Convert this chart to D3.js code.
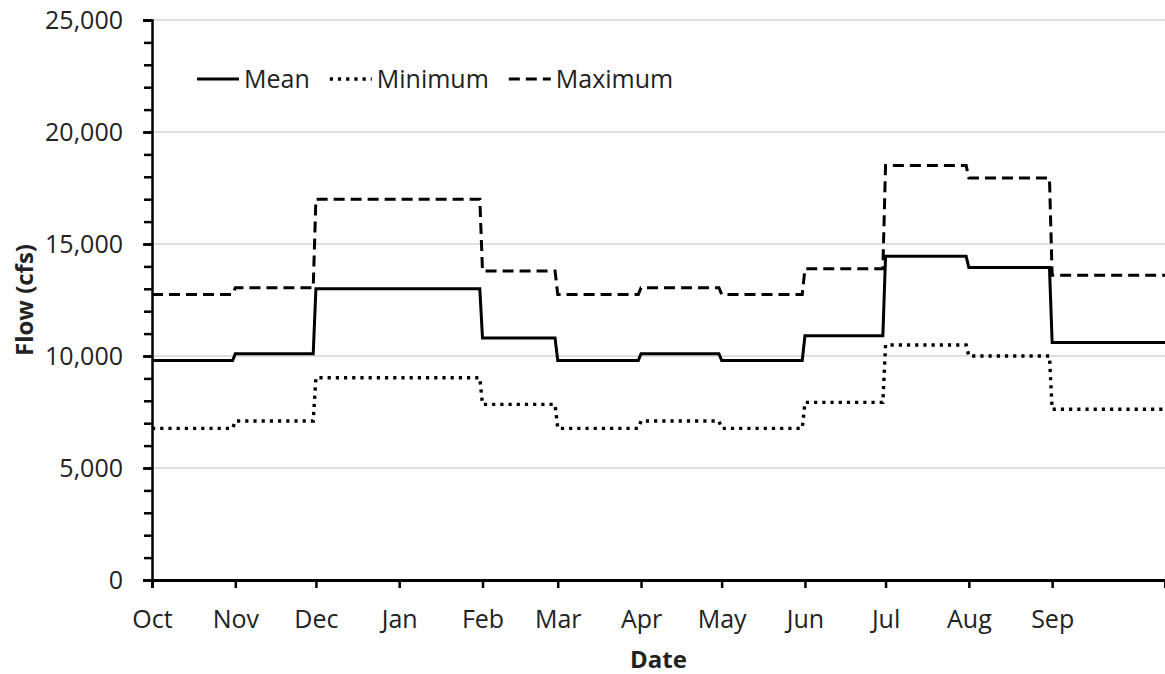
<!DOCTYPE html>
<html>
<head>
<meta charset="utf-8">
<script src="https://cdnjs.cloudflare.com/ajax/libs/d3/7.8.5/d3.min.js"></script>
<style>
  body { margin: 0; background: #fff; }
  text { font-family: "Open Sans", sans-serif; fill: #222; }
</style>
</head>
<body>
<div id="chart"></div>
<script>
// monthly flows (cfs), water year Oct - Sep
const months = ["Oct", "Nov", "Dec", "Jan", "Feb", "Mar", "Apr", "May", "Jun", "Jul", "Aug", "Sep"];
const meanFlow = [9800, 10100, 13000, 13000, 10800, 9800, 10100, 9800, 10900, 14450, 13950, 10600];
const minFlow  = [6770, 7100, 9030, 9030, 7840, 6770, 7100, 6770, 7930, 10490, 10000, 7620];
const maxFlow  = [12750, 13050, 17000, 17000, 13800, 12750, 13050, 12750, 13900, 18500, 17950, 13600];
const yTicks = [0, 5000, 10000, 15000, 20000, 25000];

const width = 1165, height = 674;
const margin = {top: 20, right: 0, bottom: 94, left: 152};

const svg = d3.select("#chart").append("svg")
    .attr("width", width)
    .attr("height", height);

const start = new Date(2001, 9, 1);
const monthStarts = d3.timeMonth.range(start, new Date(2002, 9, 1));
const end = d3.timeDay.offset(start, 377);

let x = d3.scaleTime()
    .domain([start, end])
    .range([margin.left, width - margin.right]);

let y = d3.scaleLinear()
    .domain([0, 25000])
    .range([height - margin.bottom, margin.top]);

// gridlines
svg.append("g")
  .selectAll("line")
  .data(yTicks.slice(1))
  .enter().append("line")
    .attr("x1", x.range()[0]).attr("x2", x.range()[1])
    .attr("y1", d => y(d)).attr("y2", d => y(d))
    .attr("stroke", "#d4d4d4")
    .attr("stroke-width", 1.5);

// step points: flat across each month, one-day ramp into the next
function stepPoints(vals) {
  let pts = [];
  vals.forEach((v, i) => {
    let s = monthStarts[i];
    let e = i < vals.length - 1 ? d3.timeDay.offset(monthStarts[i + 1], -1) : end;
    pts.push({date: s, v: v});
    pts.push({date: e, v: v});
  });
  return pts;
}

const line = d3.line()
    .x(d => x(d.date))
    .y(d => y(d.v));

const series = [
  {name: "Mean", vals: meanFlow, dash: null, w: 3},
  {name: "Minimum", vals: minFlow, dash: "3.2,5", w: 3.4},
  {name: "Maximum", vals: maxFlow, dash: "11,6", w: 3}
];

series.forEach(s => {
  svg.append("path")
    .datum(stepPoints(s.vals))
    .attr("d", line)
    .attr("fill", "none")
    .attr("stroke", "#000")
    .attr("stroke-width", s.w)
    .attr("stroke-dasharray", s.dash);
});

// y axis
let yAxis = svg.append("g")
    .attr("transform", `translate(${margin.left},0)`)
    .call(d3.axisLeft(y).tickValues(yTicks).tickFormat(d3.format(",")).tickSize(9).tickPadding(20));
yAxis.select(".domain").attr("stroke", "#000").attr("stroke-width", 2.5);
yAxis.selectAll(".tick line").attr("stroke", "#000").attr("stroke-width", 2.5);
yAxis.selectAll("text").style("font-size", "25px").attr("dy", "0.35em");

let yMinor = svg.append("g")
    .attr("transform", `translate(${margin.left},0)`)
    .call(d3.axisLeft(y).tickValues(d3.range(0, 25001, 1000)).tickSize(8).tickFormat(""));
yMinor.select(".domain").remove();
yMinor.selectAll(".tick line").attr("stroke", "#000").attr("stroke-width", 2.5);

// x axis
let xAxis = svg.append("g")
    .attr("transform", `translate(0,${y(0)})`)
    .call(d3.axisBottom(x).tickValues(monthStarts).tickFormat((d, i) => months[i]).tickSizeOuter(0).tickSize(8).tickPadding(22));
xAxis.select(".domain").attr("stroke", "#000").attr("stroke-width", 3);
xAxis.selectAll(".tick line").attr("stroke", "#000").attr("stroke-width", 2.5);
xAxis.selectAll("text").style("font-size", "25px");

// axis titles
svg.append("text")
  .attr("transform", `translate(${(x.range()[0] + x.range()[1]) / 2}, 668)`)
  .style("text-anchor", "middle")
  .style("font-size", "24px")
  .style("font-weight", "bold")
  .text("Date");

svg.append("text")
  .attr("transform", `translate(33, ${(y(0) + y(25000)) / 2}) rotate(-90)`)
  .style("text-anchor", "middle")
  .style("font-size", "24px")
  .style("font-weight", "bold")
  .text("Flow (cfs)");

// legend
let lx = 197;
const ly = 79;
series.forEach(s => {
  let g = svg.append("g");
  g.append("line")
    .attr("x1", lx).attr("x2", lx + 42)
    .attr("y1", ly).attr("y2", ly)
    .attr("stroke", "#000")
    .attr("stroke-width", s.w)
    .attr("stroke-dasharray", s.dash);
  let t = g.append("text")
    .attr("x", lx + 47)
    .attr("y", ly)
    .attr("dy", "0.34em")
    .style("font-size", "25px")
    .text(s.name);
  lx += 47 + t.node().getComputedTextLength() + 20;
});
</script>
</body>
</html>
